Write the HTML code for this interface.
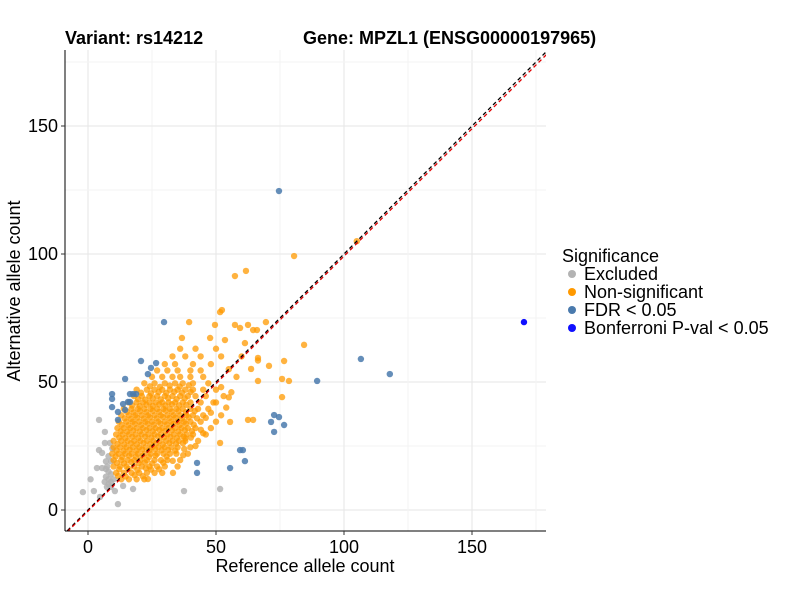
<!DOCTYPE html>
<html><head><meta charset="utf-8"><style>
body{margin:0;background:#fff;}
svg text{font-family:"Liberation Sans",Arial,sans-serif;}
</style></head><body>
<svg id="chart" width="800" height="600" viewBox="0 0 800 600" xmlns="http://www.w3.org/2000/svg">
<rect width="800" height="600" fill="#fff"/>
<g id="grid"></g><g id="pts" clip-path="url(#clip)"></g><g id="lines" clip-path="url(#clip)"></g><g id="axes"></g>
<defs><clipPath id="clip"><rect x="65" y="50" width="481" height="481"/></clipPath></defs>
<text x="65" y="44" font-size="18" font-weight="bold">Variant: rs14212</text>
<text x="303" y="44" font-size="18" font-weight="bold">Gene: MPZL1 (ENSG00000197965)</text>
<text x="305" y="572" font-size="18" text-anchor="middle" fill="#000">Reference allele count</text>
<text transform="translate(20,291) rotate(-90)" font-size="18" text-anchor="middle">Alternative allele count</text>
<g>
<text x="562" y="262" font-size="18">Significance</text>
<g><circle cx="572" cy="274" r="4" fill="#b3b3b3"/><text x="584" y="280" font-size="18">Excluded</text></g>
<g><circle cx="572" cy="292" r="4" fill="#ff9900"/><text x="584" y="298" font-size="18">Non-significant</text></g>
<g><circle cx="572" cy="310" r="4" fill="#4a7aad"/><text x="584" y="316" font-size="18">FDR &lt; 0.05</text></g>
<g><circle cx="572" cy="328" r="4" fill="#1010ff"/><text x="584" y="334" font-size="18">Bonferroni P-val &lt; 0.05</text></g>
</g>
</svg>
<script>
const xTicks=[0,50,100,150];
const yTicks=[0,50,100,150];
const gridVals=[0,25,50,75,100,125,150,175];
const greyPts=[[4.3,35.2],[6.6,30.5],[6.6,26.2],[8.6,26.2],[4.3,23.4],[5.5,22.3],[3.5,16.4],[5.5,16.4],[7,16],[8,15],[9,14],[7,13],[8,12],[9,11],[10,12],[8,10],[9,9],[6.5,11],[7.5,17],[2.3,7.4],[4.7,5.1],[7.4,9],[10.5,7.4],[13.7,9.4],[11.7,2.3],[17.6,8.2],[37.5,7.4],[51.6,8.2],[9,19],[8,21],[-2,7],[1,12],[9.5,24],[7,19]];
const orangePts=[
[13,12],[16,12],[19,12],[22,12],
[11,14.5],[14,14.5],[17,14.5],[20,14.5],[23,14.5],[26,14.5],[29,14.5],
[10,17],[12.5,17],[15,17],[18,17],[21,17],[24,17],[27,17],[30,17],[35,17],
[10,19.5],[13,19.5],[15.5,19.5],[18,19.5],[20.5,19.5],[23,19.5],[26,19.5],[28.5,19.5],[31,19.5],[36,19.5],
[9.5,22],[12,22],[14.5,22],[17,22],[19.5,22],[22,22],[24.5,22],[27,22],[29.5,22],[32,22],[34.5,22],[39,22],
[10,24.5],[12.5,24.5],[15,24.5],[17.5,24.5],[20,24.5],[22.5,24.5],[25,24.5],[27.5,24.5],[30,24.5],[32.5,24.5],[35,24.5],[40,24.5],
[10,27],[13,27],[15.5,27],[18,27],[20.5,27],[23,27],[25.5,27],[28,27],[30.5,27],[33,27],[35.5,27],[38,27],[43,27],
[11,29.5],[13.5,29.5],[16,29.5],[18.5,29.5],[21,29.5],[23.5,29.5],[26,29.5],[28.5,29.5],[31,29.5],[33.5,29.5],[36,29.5],[38.5,29.5],[41,29.5],[46,29.5],
[11.5,32],[14,32],[16.5,32],[19,32],[21.5,32],[24,32],[26.5,32],[29,32],[31.5,32],[34,32],[36.5,32],[39,32],[42,32],[48,32],
[12,34.5],[15,34.5],[17.5,34.5],[20,34.5],[22.5,34.5],[25,34.5],[27.5,34.5],[30,34.5],[32.5,34.5],[35,34.5],[37.5,34.5],[40,34.5],[44,34.5],[50,34.5],
[13,37],[16,37],[18.5,37],[21,37],[23.5,37],[26,37],[28.5,37],[31,37],[33.5,37],[36,37],[38.5,37],[41,37],[45,37],[52,37],
[14,39.5],[17,39.5],[19.5,39.5],[22,39.5],[24.5,39.5],[27,39.5],[29.5,39.5],[32,39.5],[34.5,39.5],[37,39.5],[40,39.5],[43,39.5],[47,39.5],
[16,42],[19,42],[21.5,42],[24,42],[26.5,42],[29,42],[31.5,42],[34,42],[37,42],[40,42],[44,42],[49,42],
[18,44.5],[21,44.5],[24,44.5],[27,44.5],[30,44.5],[33,44.5],[36,44.5],[39,44.5],[42,44.5],[46,44.5],[53,44.5],
[19,47],[23,47],[26,47],[29,47],[32,47],[35,47],[38,47],[41,47],[45,47],[50,47],
[22,49.5],[26,49.5],[30,49.5],[34,49.5],[37,49.5],[41,49.5],[47,49.5],
[25,52],[29,52],[33,52],[36,52],[40,52],[45,52],
[27,54.5],[31,54.5],[35,54.5],[40,54.5],[44,54.5],
[30,57],[34,57],[41,57],[48,57],[33,60],[38,60],[44,60],[52,60],[36,63],[42,63],[50,63],
[55,55],[60,60],[52,48],[58,52],[56,46],[50,42],[54,40],[48,38],[46,36],[55,44],[45,30],[42,25],[38,28],
[80.5,99.2],[105,105],[57.4,91.4],[61.7,93.4],[51.6,77.3],[52.3,78.1],[39.5,73.4],[49.6,72.3],[57.4,72.3],[59.4,71.1],[62.5,72.3],[64.5,70.3],[66,70.3],[69.5,73.4],[84.4,64.5],[36.7,67.2],[47.7,67.2],[53.5,66.4],[61.3,65.2],[66.4,59.4],[66.4,58.4],[76.6,58.2],[70.7,56.3],[63.7,55.1],[75.8,51.2],[78.5,50.4],[66.4,50.4],[75.8,44.1],[62.5,35.2],[64.5,35.2],[55.5,34.4],[51.6,26.2],[33.2,14.5],[23.4,12.1]];
const orangeExtra=[
[11.8,13.3],[14.7,13.1],[18.2,13.6],[21.4,13.2],[24.6,15.8],[12.2,15.9],[15.8,16.1],[19.3,15.7],[22.6,16.3],[27.8,15.9],
[11.3,18.4],[14.1,18.2],[16.9,18.7],[19.8,18.3],[22.2,18.6],[25.1,18.2],[29.4,18.5],[33.1,19.2],
[10.8,20.9],[13.4,20.7],[16.1,21.2],[18.7,20.8],[21.3,21.1],[23.8,20.7],[26.4,21.3],[30.7,20.9],[37.2,21.4],
[11.2,23.3],[13.9,23.1],[16.3,23.6],[18.9,23.2],[21.2,23.7],[23.9,23.3],[26.2,23.8],[28.8,23.4],[31.3,23.5],[34.1,23.2],[37.6,23.8],
[11.6,25.8],[14.2,25.6],[16.8,26.1],[19.1,25.7],[21.7,26.2],[24.3,25.8],[26.7,26.1],[29.2,25.6],[31.8,26.2],[34.4,25.9],[37.1,26.1],
[12.2,28.3],[14.6,28.1],[17.3,28.6],[19.7,28.2],[22.3,28.7],[24.8,28.3],[27.3,28.8],[29.7,28.4],[32.2,28.6],[34.7,28.2],[37.3,28.7],[40.2,28.3],
[12.8,30.8],[15.3,30.6],[17.7,31.1],[20.3,30.7],[22.8,31.2],[25.3,30.8],[27.8,31.3],[30.2,30.9],[32.8,31.1],[35.3,30.7],[37.8,31.2],[40.6,30.8],[44.1,31.3],
[13.2,33.3],[15.8,33.1],[18.3,33.6],[20.8,33.2],[23.3,33.7],[25.7,33.3],[28.3,33.8],[30.8,33.4],[33.3,33.6],[35.8,33.2],[38.2,33.7],[41.3,33.3],
[14.3,35.8],[16.8,35.6],[19.2,36.1],[21.8,35.7],[24.2,36.2],[26.8,35.8],[29.3,36.3],[31.8,35.9],[34.2,36.1],[36.7,35.7],[39.3,36.2],[42.6,35.8],
[15.2,38.3],[17.8,38.1],[20.3,38.6],[22.8,38.2],[25.3,38.7],[27.8,38.3],[30.3,38.8],[32.7,38.4],[35.3,38.6],[38.2,38.2],[41.7,38.7],
[17.3,40.8],[20.2,40.6],[22.8,41.1],[25.3,40.7],[27.8,41.2],[30.2,40.8],[32.8,41.3],[35.6,40.9],[38.4,41.1],
[19.6,43.3],[22.4,43.1],[25.3,43.6],[28.4,43.2],[31.3,43.7],[34.6,43.3],[37.8,43.6],[20.7,45.8],[24.6,45.6],[27.6,46.1],[30.6,45.7],[33.7,46.2],[36.8,45.8],[40.1,46.1],[24.2,48.3],[28.1,48.1],[31.9,48.6],[35.8,48.2],[39.4,48.7]];
const bluePts=[[29.7,73.4],[74.6,124.6],[106.6,59.0],[117.9,53.1],[89.5,50.4],[20.7,58.2],[26.6,57.4],[24.6,55.5],[23.4,53.1],[14.5,51.2],[9.4,45.3],[9.4,43.4],[9.4,40.2],[16.4,45.3],[17.6,45.3],[18.8,45.3],[15.6,42.2],[16.4,42.2],[13.7,41.4],[14.5,39.1],[11.7,38.3],[11.7,35.2],[72.7,37.1],[74.6,36.3],[71.5,34.4],[76.6,33.2],[72.7,30.5],[59.4,23.4],[60.5,23.4],[61.3,19.1],[42.6,18.4],[42.6,14.5],[55.5,16.4]];
const bonfPts=[[170.3,73.4]];
const ns="http://www.w3.org/2000/svg";
const X=v=>88+v*2.56, Y=v=>510-v*2.56;
function mk(tag,attrs,parent){const e=document.createElementNS(ns,tag);for(const k in attrs)e.setAttribute(k,attrs[k]);parent.appendChild(e);return e;}
const grid=document.getElementById('grid'),pts=document.getElementById('pts'),lines=document.getElementById('lines'),axes=document.getElementById('axes');
gridVals.forEach(v=>{
  const major=v%50===0;const c=major?'#e6e6e6':'#f3f3f3';
  if(X(v)<546){const l=mk('line',{x1:X(v),x2:X(v),y1:50,y2:531,stroke:c,'stroke-width':1},grid);
  
  }
  if(Y(v)>50){const l2=mk('line',{x1:65,x2:546,y1:Y(v),y2:Y(v),stroke:c,'stroke-width':1},grid);
  
  }
});
function drawSet(arr,fill,op,name){arr.forEach(p=>{const c=mk('circle',{cx:X(p[0]),cy:Y(p[1]),r:3.2,fill:fill,'fill-opacity':op},pts);
  
  });}
drawSet(greyPts,'#b3b3b3',0.85,'point-excluded');
drawSet(orangePts,'#ff9900',0.75,'point-non-significant');
drawSet(orangeExtra,'#ff9900',0.75,'point-non-significant');
drawSet(bluePts,'#4a7aad',0.85,'point-fdr');
drawSet(bonfPts,'#1010ff',1,'point-bonferroni');
const blk=mk('line',{x1:X(-10),y1:Y(-10),x2:X(180),y2:Y(180),stroke:'#000','stroke-width':1.3,'stroke-dasharray':'4,3'},lines);


const red=mk('line',{x1:X(-10),y1:Y(-10.4),x2:X(180),y2:Y(178.8),stroke:'#e00000','stroke-width':1.3,'stroke-dasharray':'4,3'},lines);


const ya=mk('line',{x1:65,x2:65,y1:50,y2:531,stroke:'#000','stroke-width':1},axes);


const xa=mk('line',{x1:65,x2:546,y1:531,y2:531,stroke:'#000','stroke-width':1},axes);


xTicks.forEach(v=>{mk('line',{x1:X(v),x2:X(v),y1:531,y2:535,stroke:'#333'},axes);
  const t=mk('text',{x:X(v),y:553,'font-size':18,'text-anchor':'middle',fill:'#000'},axes);t.textContent=v;
  
  });
yTicks.forEach(v=>{mk('line',{x1:61,x2:65,y1:Y(v),y2:Y(v),stroke:'#333'},axes);
  const t=mk('text',{x:58,y:Y(v)+6,'font-size':18,'text-anchor':'end',fill:'#000'},axes);t.textContent=v;
  
  });
</script>
</body></html>
